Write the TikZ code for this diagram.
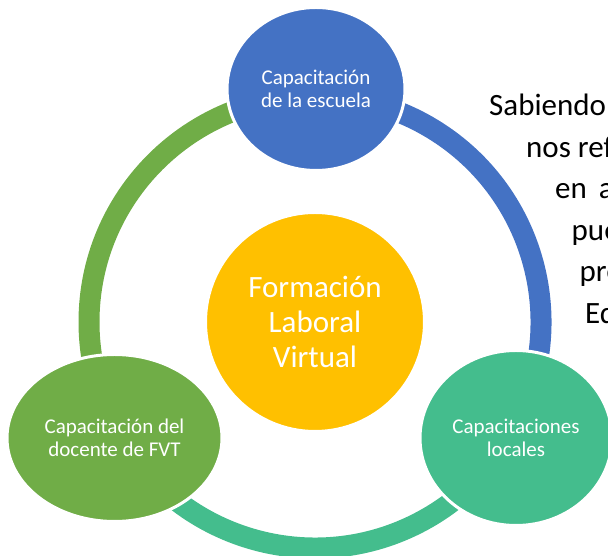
\documentclass[tikz,border=0pt]{standalone}
\usepackage{fontspec}
\setmainfont{Carlito}
\usetikzlibrary{shapes.geometric}
\definecolor{cblue}{RGB}{68,114,196}
\definecolor{cgold}{RGB}{255,192,0}
\definecolor{cgreen}{RGB}{112,173,71}
\definecolor{cteal}{RGB}{68,189,141}

\begin{document}
\begin{tikzpicture}[x=1pt,y=1pt,
		bubble/.style={ellipse,draw=white,line width=3pt,inner sep=0pt,text=white,align=center,font=\fontsize{21}{22.5}\selectfont},
		ring/.style={line width=21pt},
		sidetext/.style={anchor=base west,inner sep=0pt,font=\fontsize{31}{35}\selectfont}]
		\useasboundingbox (0,0) rectangle (608,556);
		\clip (0,0) rectangle (608,556);

		\draw (315,234) node (fvl) [bubble,fill=cgold,minimum size=219pt,font=\fontsize{31}{35}\selectfont] {Formación\\Laboral\\Virtual};

		\draw[ring,cgreen] ([shift={(90:226)}]fvl.center) arc[start angle=90,end angle=210,radius=226];
		\draw[ring,cteal] ([shift={(210:226)}]fvl.center) arc[start angle=210,end angle=330,radius=226];
		\draw[ring,cblue] ([shift={(-30:226)}]fvl.center) arc[start angle=-30,end angle=90,radius=226];

		\draw (316,467) node (escuela) [bubble,fill=cblue,minimum width=178pt,minimum height=163pt] {Capacitación\\de la escuela};
		\draw (114.5,118) node (docente) [bubble,fill=cgreen,minimum width=215pt,minimum height=167pt] {Capacitación del\\docente de FVT};
		\draw (516,118) node (locales) [bubble,fill=cteal,minimum width=192pt,minimum height=175pt] {Capacitaciones\\locales};

		\draw (489,440) node (l1) [sidetext] {Sabiendo};
		\draw (526,398.5) node (l2) [sidetext] {nos ref};
		\draw (555,357) node (l3) [sidetext] {en\hspace{5pt} a};
		\draw (571.5,315.5) node (l4) [sidetext] {pue};
		\draw (579.5,274) node (l5) [sidetext] {pre};
		\draw (585,232) node (l6) [sidetext] {Ed};
	\end{tikzpicture}
\end{document}
